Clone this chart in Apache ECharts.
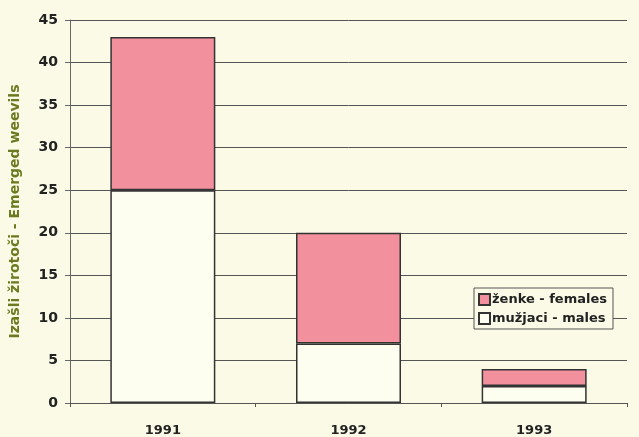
<!DOCTYPE html>
<html>
<head>
<meta charset="utf-8">
<script src="https://cdn.jsdelivr.net/npm/echarts@6/dist/echarts.min.js"></script>
<style>
html,body{margin:0;padding:0;background:#fafae6;}
#chart{width:639px;height:437px;}
</style>
</head>
<body>
<div id="chart"></div>
<script>
var categories = ['1991', '1992', '1993'];
var males = [25, 7, 2];
var females = [18, 13, 2];
var yTicks = [0, 5, 10, 15, 20, 25, 30, 35, 40, 45];
var seriesNames = ['ženke - females', 'mužjaci - males'];
var yTitle = 'Izašli žirotoči - Emerged weevils';

var chart = echarts.init(document.getElementById('chart'));
chart.setOption({
  backgroundColor: '#fafae6',
  animation: false,
  grid: {left: 70, right: 12, top: 20, bottom: 32},
  legend: {
    data: seriesNames,
    orient: 'vertical',
    left: 474, top: 288,
    icon: 'rect',
    itemWidth: 11, itemHeight: 11, itemGap: 6,
    backgroundColor: '#fafae6',
    borderColor: '#555', borderWidth: 1,
    padding: [5, 6, 4, 4],
    textStyle: {fontFamily: 'DejaVu Sans', fontWeight: 'bold', fontSize: 13, color: '#222', padding: [0,0,0,-3]}
  },
  xAxis: {
    type: 'category',
    data: categories,
    axisLine: {lineStyle: {color: '#555', width: 1}},
    axisTick: {show: true, length: 4, lineStyle: {color: '#555'}},
    axisLabel: {fontFamily: 'DejaVu Sans', fontWeight: 'bold', fontSize: 13, color: '#222', margin: 21}
  },
  yAxis: {
    type: 'value',
    min: yTicks[0], max: yTicks[yTicks.length - 1], interval: 5,
    name: yTitle,
    nameLocation: 'middle',
    nameGap: 48,
    nameTextStyle: {fontFamily: 'DejaVu Sans', fontWeight: 'bold', fontSize: 14, color: '#6b7a1e'},
    axisLine: {show: true, lineStyle: {color: '#666', width: 1}},
    axisTick: {show: true, length: 5, lineStyle: {color: '#666'}},
    axisLabel: {fontFamily: 'DejaVu Sans', fontWeight: 'bold', fontSize: 14, color: '#222', margin: 12},
    splitLine: {lineStyle: {color: '#555', width: 1}}
  },
  series: [
    {
      name: seriesNames[1], type: 'bar', stack: 'a', data: males, barWidth: 105,
      itemStyle: {color: '#fdfdf0', borderColor: '#333', borderWidth: 1.5}
    },
    {
      name: seriesNames[0], type: 'bar', stack: 'a', data: females, barWidth: 105,
      itemStyle: {color: '#f2909e', borderColor: '#333', borderWidth: 1.5}
    }
  ]
});
</script>
</body>
</html>
